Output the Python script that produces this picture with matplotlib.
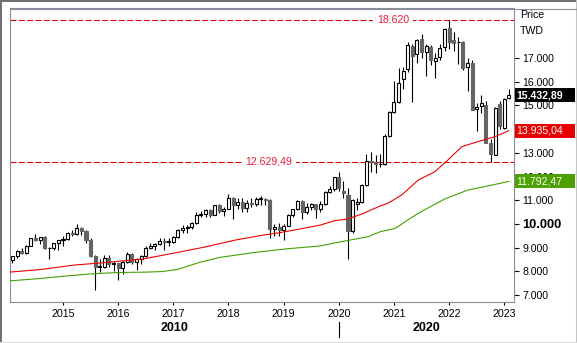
import matplotlib
matplotlib.use("Agg")
import matplotlib.pyplot as plt
from matplotlib import transforms
from matplotlib.lines import Line2D
from matplotlib.patches import Rectangle
import numpy as np

plt.rcParams['font.family'] = ['Liberation Sans', 'DejaVu Sans']
plt.rcParams['lines.scale_dashes'] = False

# monthly bars, Feb 2014 .. Feb 2023
start_year = 2014
start_month = 2

opens = [
    8462, 8639, 8849, 8792, 9075, 9393, 9315, 9436, 8966, 8975, 9187,
    9307, 9361, 9622, 9586, 9820, 9701, 9323, 8665, 8175, 8181, 8554, 8320,
    8338, 8145, 8411, 8744, 8377, 8536, 8667, 8984, 9069, 9167, 9290, 9240,
    9254, 9448, 9750, 9812, 9872, 10041, 10395, 10427, 10586, 10384, 10794, 10560,
    10643, 11104, 10815, 10919, 10658, 10875, 10837, 11057, 11064, 11006, 9802, 9888,
    9727, 9932, 10389, 10641, 10967, 10498, 10731, 10824, 10618, 10830, 11358, 11490,
    11997, 11400, 11230, 9708, 10850, 10943, 11621, 12665, 12592, 12516, 12546, 13723,
    14720, 15138, 16100, 16520, 17510, 17170, 17790, 17270, 17480, 16890, 17030, 17450,
    18250, 17760, 17660, 17690, 16610, 16780, 14830, 14980, 15020, 13400, 12910, 15050,
    14030, 15330,
]
highs = [
    8660, 8885, 8970, 9100, 9400, 9593, 9460, 9470, 9040, 9200, 9310,
    9500, 9640, 9728, 10014, 9858, 9745, 9400, 8700, 8500, 8700, 8700, 8450,
    8350, 8450, 8800, 8780, 8580, 8700, 9050, 9200, 9200, 9390, 9400, 9400,
    9500, 9800, 9972, 9970, 10100, 10513, 10530, 10620, 10650, 10800, 10850, 10700,
    11270, 11150, 11100, 11100, 11000, 11100, 11150, 11180, 11100, 11030, 10000, 10050,
    10000, 10400, 10650, 11000, 11000, 10880, 10900, 10850, 10950, 11400, 11600, 12000,
    12197, 11800, 11500, 11050, 11100, 11700, 12930, 13030, 12900, 12950, 13800, 14760,
    16040, 16580, 16630, 17660, 17600, 17800, 18034, 17600, 17530, 17200, 17600, 18250,
    18620, 18100, 17900, 17700, 17000, 16900, 15100, 15440, 15200, 13600, 14950, 15200,
    15300, 15700,
]
lows = [
    8370, 8580, 8740, 8720, 9060, 9280, 9170, 8940, 8501, 8880, 8900,
    9080, 9330, 9490, 9540, 9540, 9200, 8600, 7203, 7950, 8120, 8200, 8000,
    7627, 7900, 8350, 8300, 8050, 8300, 8600, 8950, 8900, 9130, 8900, 9050,
    9200, 9410, 9630, 9630, 9800, 10000, 10300, 10300, 10300, 10380, 10450, 10330,
    10630, 10190, 10650, 10500, 10500, 10700, 10750, 10800, 10800, 9400, 9500, 9500,
    9320, 9900, 10300, 10600, 10200, 10400, 10600, 10230, 10500, 10800, 11300, 11400,
    11400, 11100, 8523, 9600, 10600, 10900, 11600, 12200, 12150, 12400, 12500, 13650,
    14700, 15100, 15700, 16400, 15160, 16800, 17000, 16248, 16700, 16152, 16900, 17300,
    17400, 17300, 16760, 16500, 15616, 14800, 13928, 14700, 13400, 12629.49, 12900, 13990,
    14000, 15290,
]
closes = [
    8639, 8849, 8792, 9075, 9393, 9315, 9436, 8966, 8975, 9187, 9307,
    9361, 9622, 9586, 9820, 9701, 9323, 8665, 8175, 8181, 8554, 8320, 8338,
    8145, 8411, 8744, 8377, 8536, 8667, 8984, 9069, 9167, 9290, 9240, 9254,
    9448, 9750, 9812, 9872, 10041, 10395, 10427, 10586, 10384, 10794, 10560, 10643,
    11104, 10815, 10919, 10658, 10875, 10837, 11057, 11064, 11006, 9802, 9888, 9727,
    9932, 10389, 10641, 10967, 10498, 10731, 10824, 10618, 10830, 11358, 11490, 11997,
    11495, 11292, 9708, 10992, 10943, 11621, 12665, 12592, 12516, 12546, 13723, 14733,
    15138, 15954, 16431, 17567, 17068, 17755, 17247, 17491, 16935, 16987, 17428, 18219,
    17674, 17652, 17693, 16592, 16807, 14826, 14931, 15095, 13425, 12950, 14880, 14138,
    15265, 15432.89,
]

# moving averages (decimal year, value)
ma_red_dates = [2014.0, 2014.61, 2015.21, 2015.61, 2015.82, 2016.45, 2017.08, 2017.54,
                2018.15, 2018.63, 2018.93, 2019.35, 2019.66, 2019.93, 2020.15, 2020.42,
                2020.75, 2020.89, 2021.14, 2021.44, 2021.74, 2021.98, 2022.23, 2022.56,
                2022.83, 2023.083]
ma_red_values = [7960, 8080, 8265, 8340, 8380, 8520, 8800, 9010,
                 9330, 9530, 9630, 9810, 9950, 10140, 10200, 10420,
                 10755, 10870, 11220, 11850, 12200, 12700, 13260, 13500,
                 13680, 13935.04]
ma_green_dates = [2014.0, 2014.5, 2015.0, 2015.5, 2016.0, 2016.5, 2016.8, 2017.08,
                  2017.48, 2017.85, 2018.44, 2019.06, 2019.66, 2020.02, 2020.53, 2020.75,
                  2021.02, 2021.44, 2021.92, 2022.34, 2022.70, 2023.083]
ma_green_values = [7590, 7680, 7790, 7890, 7950, 7965, 7990, 8080,
                   8380, 8590, 8785, 8950, 9070, 9240, 9460, 9670,
                   9810, 10450, 11050, 11430, 11600, 11792.47]

peak_level = 18620
trough_level = 12629.49
y_ticks = list(range(7000, 18000, 1000))
x_ticks = list(range(2015, 2024))


def de_num(v, decimals=0):
    s = f"{v:,.{decimals}f}"
    return s.replace(',', '#').replace('.', ',').replace('#', '.')


W, H = 577, 343
fig = plt.figure(figsize=(W / 100, H / 100), dpi=100)
fig.patch.set_facecolor('white')


def fx(x):
    return x / W


def fy(y):
    return 1 - y / H


ax = fig.add_axes([fx(9.5), fy(302), fx(514) - fx(9.5), fy(8) - fy(302)])
ax.set_xlim(2014.03, 2023.176)
ax.set_ylim(6705, 19110)

o = np.array(opens, float)
h = np.array(highs, float)
l = np.array(lows, float)
c = np.array(closes, float)
months = np.arange(len(c))
dates = start_year + (start_month - 1 + months) / 12.0
up = c >= o

# candles
ax.vlines(dates, l, h, color='black', lw=0.8, zorder=3)
bottom = np.minimum(o, c)
height = np.maximum(np.abs(c - o), 30)
ax.bar(dates[up], height[up], bottom=bottom[up], width=0.055, color='white',
       edgecolor='black', linewidth=0.8, zorder=4)
ax.bar(dates[~up], height[~up], bottom=bottom[~up], width=0.055, color='#646464',
       edgecolor='#646464', linewidth=0.8, zorder=4)

# moving averages
ax.plot(ma_red_dates, ma_red_values, color='#f00000', lw=0.8, zorder=5)
ax.plot(ma_green_dates, ma_green_values, color='#44a000', lw=0.8, zorder=5)

# high / low levels
for lvl, txt, xpos in [(peak_level, de_num(peak_level), 2020.98),
                       (trough_level, de_num(trough_level, 2), 2018.73)]:
    ax.axhline(lvl, color='#e00000', lw=0.8, ls=(0, (4.3, 1.7)), zorder=2)
    ax.text(xpos, lvl, txt, color='#ee1a3a', fontsize=7.6, ha='center', va='center',
            zorder=6, bbox=dict(boxstyle='square,pad=0.35', fc='white', ec='none'))

# axes styling
for sp in ax.spines.values():
    sp.set_color('#8c8c9c')
    sp.set_linewidth(0.8)
ax.yaxis.tick_right()
# 14.000 sits under the red value box, so it gets no label
ax.set_yticks(y_ticks, ['' if v == 14000 else de_num(v) for v in y_ticks])
ax.tick_params(axis='y', length=3.6, width=0.8, pad=2.6, labelsize=7.6, colors='black')
for lab, v in zip(ax.get_yticklabels(), y_ticks):
    if v == 10000:
        lab.set_fontweight('bold')
        lab.set_fontsize(9.3)
ax.set_xticks(x_ticks, [str(v) for v in x_ticks])
ax.tick_params(axis='x', length=2.2, width=0.8, pad=2.5, labelsize=7.7, colors='black')

# decade row
trans_xd = transforms.blended_transform_factory(ax.transData, fig.transFigure)
x0, x1 = ax.get_xlim()
ax.text((x0 + 2020) / 2, fy(327.7), '2010', transform=trans_xd, fontsize=9,
        fontweight='bold', ha='center', va='center', clip_on=False)
ax.text((2020 + x1) / 2, fy(327.7), '2020', transform=trans_xd, fontsize=9,
        fontweight='bold', ha='center', va='center', clip_on=False)
ax.add_artist(Line2D([2020, 2020], [fy(322), fy(337)], transform=trans_xd,
                     color='black', lw=0.8, clip_on=False))

# right-hand labels
fig.text(fx(520), fy(15), 'Price', fontsize=7.6, ha='left', va='center')
fig.text(fx(520), fy(31), 'TWD', fontsize=7.6, ha='left', va='center')

trans_fd = transforms.blended_transform_factory(fig.transFigure, ax.transData)
half = 7 / 23.7 * 1000
for val, face, bold in [(closes[-1], 'black', True),
                        (ma_red_values[-1], '#e80000', False),
                        (ma_green_values[-1], '#4ca000', False)]:
    ax.add_patch(Rectangle((fx(515), val - half), fx(575) - fx(515), 2 * half,
                           transform=trans_fd, facecolor=face, edgecolor='none',
                           clip_on=False, zorder=10))
    ax.text(fx(516.5), val, de_num(val, 2), transform=trans_fd, color='white',
            fontsize=7.6, fontweight='bold' if bold else 'normal',
            ha='left', va='center', clip_on=False, zorder=11)

# frame
frame = [
    ([0, W], [1, 1], '#6e6e6e', 1.4),
    ([1, 1], [0, H], '#6e6e6e', 1.4),
    ([575.5, 575.5], [0, 341.5], '#c4c4c4', 0.8),
    ([0, W], [341.5, 341.5], '#dcdcdc', 0.8),
    ([9.5, 575.5], [8.5, 8.5], '#8c8c9c', 0.8),
]
for xs, ys, col, lw in frame:
    fig.add_artist(Line2D([fx(v) for v in xs], [fy(v) for v in ys], color=col, lw=lw))

fig.savefig('out.png', dpi=100)
